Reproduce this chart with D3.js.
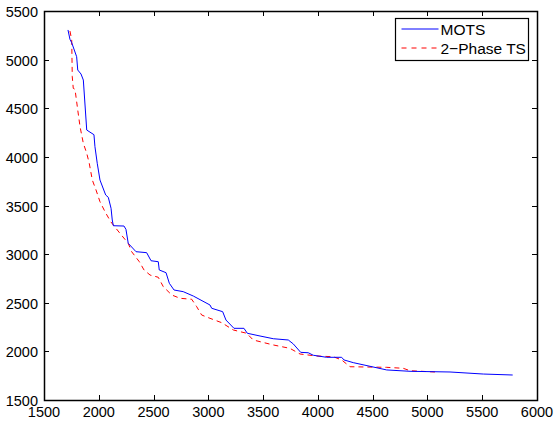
<!DOCTYPE html>
<html>
<head>
<meta charset="UTF-8">
<title>MOTS vs 2-Phase TS</title>
<style>
  body { margin: 0; background: #fff; }
  text { font-family: "Liberation Sans", Arial, sans-serif; }
</style>
<script src="https://d3js.org/d3.v7.min.js"></script>
</head>
<body>
<div class="canvas"></div>
<script>
// data
const motsX = [1719,1737,1753,1798,1808,1838,1859,1890,1956,1965,1986,2011,2063,2087,2112,2123,2133,2230,2248,2269,2340,2437,2477,2543,2552,2614,2644,2687,2771,2863,3015,3031,3131,3161,3234,3325,3356,3472,3593,3730,3776,3843,3912,3958,4080,4217,4238,4323,4628,4841,5206,5510,5778];
const motsY = [5305,5209,5174,5030,4893,4852,4790,4276,4228,4105,3934,3762,3608,3584,3471,3351,3292,3289,3255,3111,3025,3015,2932,2922,2837,2809,2700,2631,2614,2569,2477,2443,2408,2322,2237,2237,2186,2158,2130,2117,2076,1990,1986,1960,1939,1939,1912,1884,1809,1795,1788,1767,1757];
const tsX = [1737,1753,1758,1767,1783,1808,1829,1859,1890,1913,1941,1975,2011,2057,2109,2194,2269,2300,2370,2413,2468,2543,2589,2666,2741,2848,2894,2939,3015,3122,3228,3350,3410,3593,3745,3837,3989,4140,4217,4293,4628,4779,4841,5069];
const tsY = [5294,5202,4824,4705,4695,4482,4310,4140,4037,3934,3762,3659,3539,3436,3333,3213,3111,3025,2922,2837,2785,2762,2665,2580,2546,2536,2459,2374,2340,2295,2220,2186,2117,2066,2031,1973,1952,1945,1912,1842,1836,1826,1801,1788];
const xTicks = [1500,2000,2500,3000,3500,4000,4500,5000,5500,6000];
const yTicks = [1500,2000,2500,3000,3500,4000,4500,5000,5500];
const seriesNames = ["MOTS", "2\u2212Phase TS"];

const W = 554, H = 424;
const mLeft = 44, mRight = 537, mTop = 11, mBottom = 400;

const svg = d3.select('.canvas').append('svg')
    .attr('width', W).attr('height', H);

const x = d3.scaleLinear().domain([1500, 6000]).range([mLeft, mRight]);
const y = d3.scaleLinear().domain([1500, 5500]).range([mBottom, mTop]);

const tickLen = 5;
const axisG = svg.append('g').attr('stroke', '#000').attr('stroke-width', 1);

// box ticks on all sides, pointing inward
xTicks.forEach(v => {
    const px = Math.round(x(v)) + 0.5;
    axisG.append('line').attr('x1', px).attr('x2', px).attr('y1', mBottom).attr('y2', mBottom - tickLen);
    axisG.append('line').attr('x1', px).attr('x2', px).attr('y1', mTop).attr('y2', mTop + tickLen);
});
yTicks.forEach(v => {
    const py = Math.round(y(v)) + 0.5;
    axisG.append('line').attr('x1', mLeft).attr('x2', mLeft + tickLen).attr('y1', py).attr('y2', py);
    axisG.append('line').attr('x1', mRight).attr('x2', mRight - tickLen).attr('y1', py).attr('y2', py);
});

svg.selectAll('.xl').data(xTicks).enter().append('text')
    .attr('x', d => x(d)).attr('y', mBottom + 16.5)
    .attr('text-anchor', 'middle').attr('font-size', 14.5)
    .text(d => d);
svg.selectAll('.yl').data(yTicks).enter().append('text')
    .attr('x', mLeft - 6).attr('y', d => y(d) + 6)
    .attr('text-anchor', 'end').attr('font-size', 14.5)
    .text(d => d);

const line = d3.line().x(d => x(d[0])).y(d => y(d[1]));

svg.append('path')
    .datum(d3.zip(tsX, tsY))
    .attr('d', line)
    .attr('fill', 'none').attr('stroke', '#ff0000').attr('stroke-width', 1)
    .attr('stroke-dasharray', '5,4');

svg.append('path')
    .datum(d3.zip(motsX, motsY))
    .attr('d', line)
    .attr('fill', 'none').attr('stroke', '#0000ff').attr('stroke-width', 1);

// plot box
svg.append('rect')
    .attr('x', mLeft + 0.5).attr('y', mTop + 0.5)
    .attr('width', mRight - mLeft).attr('height', mBottom - mTop)
    .attr('fill', 'none').attr('stroke', '#000').attr('stroke-width', 1.5);

// legend
const lg = svg.append('g').attr('transform', 'translate(395.5,18.5)');
lg.append('rect').attr('width', 133).attr('height', 42)
    .attr('fill', '#fff').attr('stroke', '#000').attr('stroke-width', 1.2);
const legendColors = ['#0000ff', '#ff0000'];
seriesNames.forEach((name, i) => {
    const ly = 10.5 + i * 19;
    lg.append('line').attr('x1', 6).attr('x2', 43).attr('y1', ly).attr('y2', ly)
        .attr('stroke', legendColors[i]).attr('stroke-width', 1)
        .attr('stroke-dasharray', i === 1 ? '5,5' : null);
    lg.append('text').attr('x', 45).attr('y', ly + 5.5)
        .attr('font-size', 15.5).text(name);
});
</script>
</body>
</html>
